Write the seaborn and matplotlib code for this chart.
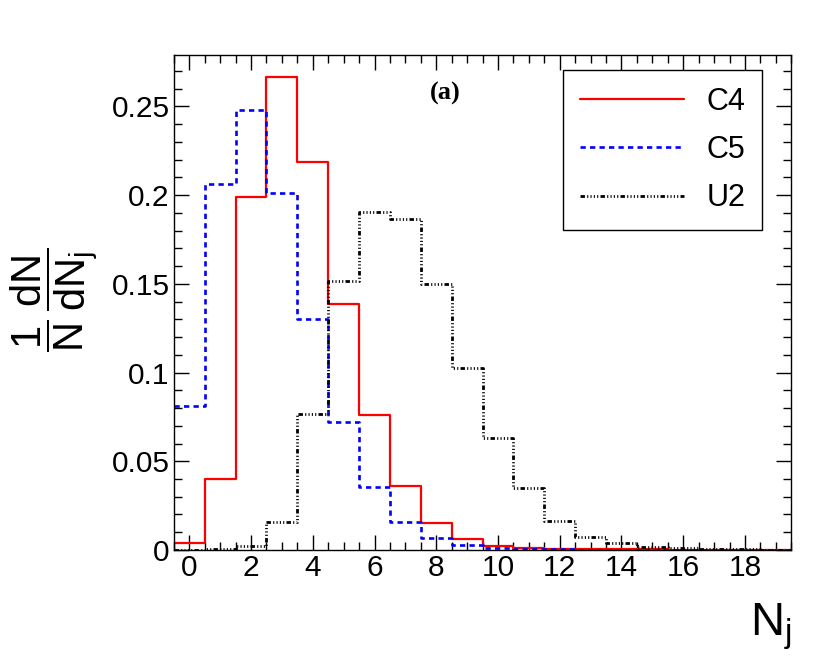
import numpy as np
import pandas as pd
import seaborn as sns
import matplotlib
matplotlib.use("Agg")
import matplotlib.pyplot as plt
from matplotlib.lines import Line2D
from matplotlib.ticker import MultipleLocator, FuncFormatter

# jet multiplicity, bins centred on 0..19
nj = np.arange(20)
c4 = [0.0038, 0.0402, 0.1987, 0.2665, 0.2185, 0.1386, 0.0758, 0.0363, 0.0154, 0.0064,
      0.0023, 0.0010, 0.0005, 0.0004, 0.0003, 0.0003, 0.0002, 0.0002, 0.0001, 0.0001]
c5 = [0.0810, 0.2064, 0.2478, 0.2013, 0.1300, 0.0720, 0.0357, 0.0156, 0.0066, 0.0026,
      0.0012, 0.0006, 0.0003, 0.0002, 0.0001, 0.0001, 0.0001, 0.0001, 0.0001, 0.0001]
u2 = [0.0002, 0.0003, 0.0020, 0.0160, 0.0769, 0.1515, 0.1906, 0.1867, 0.1497, 0.1028,
      0.0633, 0.0352, 0.0165, 0.0075, 0.0041, 0.0019, 0.0010, 0.0008, 0.0003, 0.0001]
labels = ["C4", "C5", "U2"]

sns.set_style("ticks")
plt.rcParams["font.family"] = ["Liberation Sans", "DejaVu Sans"]
plt.rcParams["mathtext.fontset"] = "custom"
plt.rcParams["mathtext.rm"] = "Liberation Sans"
plt.rcParams["mathtext.it"] = "Liberation Sans"
for k in ["text.color", "axes.labelcolor", "xtick.color", "ytick.color", "axes.edgecolor"]:
    plt.rcParams[k] = "black"

fig = plt.figure(figsize=(8.2, 6.6), dpi=100)
ax = fig.add_axes([0.212, 0.1667, 0.753, 0.75])

styles = [
    dict(color="#ff0000", linestyle="-", linewidth=1.6),
    dict(color="#0000ff", linestyle=(0, (2.0, 1.6)), linewidth=1.9),
    dict(color="black", linestyle=(0, (1.6, 0.8, 0.4, 0.8, 0.4, 0.8, 0.4, 0.8, 0.4, 0.8)),
         linewidth=2.0),
]
for vals, st in zip([c4, c5, u2], styles):
    df = pd.DataFrame({"nj": nj, "w": vals})
    sns.histplot(data=df, x="nj", weights="w", binwidth=1, binrange=(-0.5, 19.5),
                 element="step", fill=False, ax=ax, **st)

ax.set_xlim(-0.5, 19.5)
ax.set_ylim(0, 0.279)
ax.xaxis.set_major_locator(MultipleLocator(2))
ax.xaxis.set_minor_locator(MultipleLocator(0.5))
ax.yaxis.set_major_locator(MultipleLocator(0.05))
ax.yaxis.set_minor_locator(MultipleLocator(0.01))
ax.yaxis.set_major_formatter(FuncFormatter(lambda v, p: "%g" % round(v, 3)))
ax.tick_params(which="both", direction="in", top=True, right=True, labelsize=21.5, width=1)
ax.tick_params(which="major", length=11)
ax.tick_params(which="minor", length=6)
ax.tick_params(axis="x", pad=3)
ax.tick_params(axis="y", pad=3)
for s in ax.spines.values():
    s.set_linewidth(1)

ax.set_xlabel("N$_{\\rm j}$", fontsize=34, loc="right", labelpad=14)
ax.set_ylabel("")
fig.text(0.066, 0.545, r"$\dfrac{1}{\rm N}\,\dfrac{\rm dN}{\rm dN_j}$", fontsize=30,
         rotation=90, ha="center", va="center")
ax.text(0.439, 0.923, "(a)", transform=ax.transAxes, fontsize=19, fontweight="bold",
        family="Liberation Serif", ha="center", va="center")

handles = [Line2D([], [], **st) for st in styles]
leg = ax.legend(handles, labels, loc="upper right", bbox_to_anchor=(0.953, 0.970),
                borderaxespad=0, fontsize=22, frameon=True, fancybox=False,
                handlelength=3.4, labelspacing=0.6, borderpad=0.55, handletextpad=0.75)
leg.get_frame().set_edgecolor("black")
leg.get_frame().set_linewidth(1)
leg.get_frame().set_alpha(1)

fig.savefig("out.png", dpi=100)
